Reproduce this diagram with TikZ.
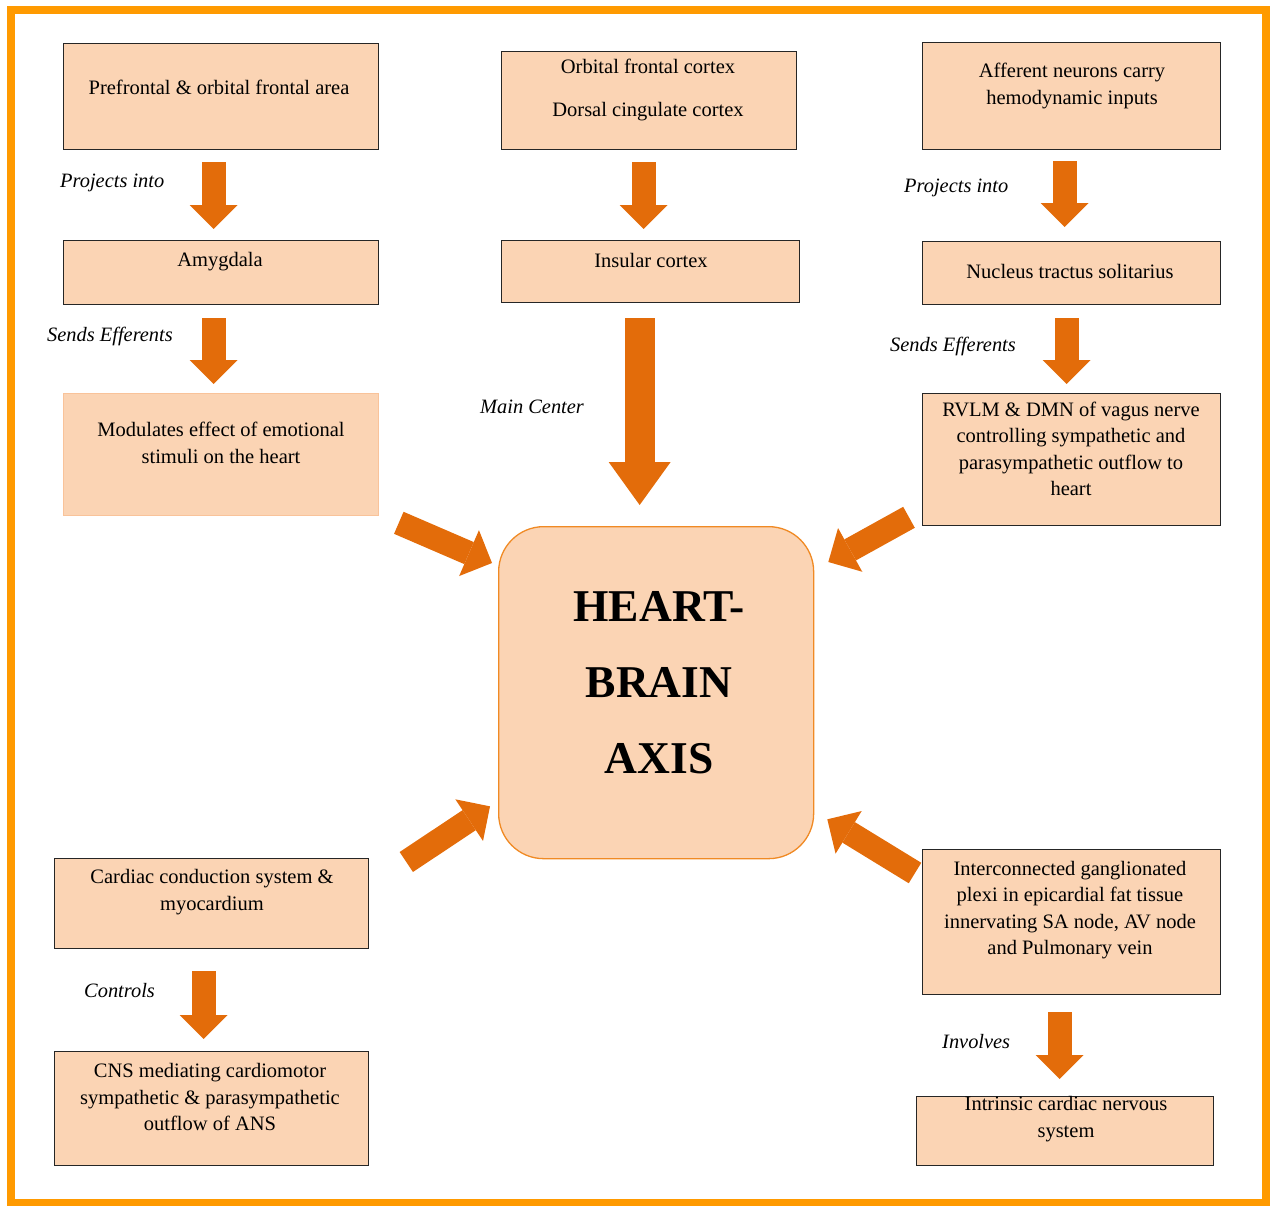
\documentclass[tikz,border=0pt]{standalone}
\usepackage{fontspec}
\setmainfont{Liberation Serif}
\usepackage{tikz}
\usetikzlibrary{arrows.meta}
\definecolor{peach}{HTML}{FBD4B4}
\definecolor{rust}{HTML}{E36C0A}
\definecolor{rim}{HTML}{FF9A00}
\definecolor{hubedge}{HTML}{F08A24}
\definecolor{softedge}{HTML}{F9C39A}
\tikzset{
  box/.style={draw=black!85, fill=peach, line width=1.3pt, anchor=north west, inner sep=0pt},
  softbox/.style={box, draw=softedge, line width=0.8pt},
  hub/.style={draw=hubedge, fill=peach, line width=1.3pt, rounded corners=45pt, anchor=north west, inner sep=0pt},
  txt/.style={font=\fontsize{20.5}{26.5}\selectfont, align=center, inner sep=0pt},
  lab/.style={font=\fontsize{20.4}{24}\selectfont\itshape, anchor=west, inner sep=0pt},
  title/.style={font=\fontsize{45.5}{76}\selectfont\bfseries, align=center, inner sep=0pt},
  flow/.style={draw=rust, line width=24pt, -{Triangle[length=24pt,width=48pt,line width=0pt]}},
  slant/.style={draw=rust, line width=24pt, -{Triangle[length=25pt,width=50pt,line width=0pt]}},
  bigflow/.style={draw=rust, line width=30pt, -{Triangle[length=43pt,width=62pt,line width=0pt]}},
}
\begin{document}
\begin{tikzpicture}[x=1pt,y=-1pt]
  \useasboundingbox (0,0) rectangle (1274,1205);
  \draw[rim, line width=8pt] (11,10) rectangle (1266,1203);
  % boxes
  \node[box, minimum width=315pt, minimum height=106pt] (pfc) at (63,43) {};
  \node[box, minimum width=295pt, minimum height=98pt] (ofc) at (501,51) {};
  \node[box, minimum width=298pt, minimum height=107pt] (aff) at (922,42) {};
  \node[box, minimum width=315pt, minimum height=64pt] (amy) at (63,240) {};
  \node[box, minimum width=298pt, minimum height=62pt] (ins) at (501,240) {};
  \node[box, minimum width=298pt, minimum height=63pt] (nts) at (922,241) {};
  \node[softbox, minimum width=315pt, minimum height=122pt] (mod) at (63,393) {};
  \node[box, minimum width=298pt, minimum height=132pt] (rvlm) at (922,393) {};
  \node[hub, minimum width=315pt, minimum height=332pt] (hba) at (498,526) {};
  \node[box, minimum width=314pt, minimum height=90pt] (card) at (54,858) {};
  \node[box, minimum width=314pt, minimum height=114pt] (cns) at (54,1051) {};
  \node[box, minimum width=298pt, minimum height=145pt] (icp) at (922,849) {};
  \node[box, minimum width=297pt, minimum height=69pt] (icns) at (916,1096) {};
  % texts
  \node[txt] (pfcT) at (219,87) {Prefrontal \& orbital frontal area};
  \node[txt] (ofcT) at (648,90) {Orbital frontal cortex\\[17pt]Dorsal cingulate cortex};
  \node[txt] (affT) at (1072,86) {Afferent neurons carry\\hemodynamic inputs};
  \node[txt] (amyT) at (220,262) {Amygdala};
  \node[txt] (insT) at (651,260) {Insular cortex};
  \node[txt] (ntsT) at (1070,271) {Nucleus tractus solitarius};
  \node[txt] (modT) at (221,443) {Modulates effect of emotional\\stimuli on the heart};
  \node[txt] (rvlmT) at (1071,449) {RVLM \& DMN of vagus nerve\\controlling sympathetic and\\parasympathetic outflow to\\heart};
  \node[title] (hbaT) at (659,683) {HEART-\\BRAIN\\AXIS};
  \node[txt] (cardT) at (212,892) {Cardiac conduction system \&\\myocardium};
  \node[txt] (cnsT) at (210,1097) {CNS mediating cardiomotor\\sympathetic \& parasympathetic\\outflow of ANS};
  \node[txt] (icpT) at (1070,910) {Interconnected ganglionated\\plexi in epicardial fat tissue\\innervating SA node, AV node\\and Pulmonary vein};
  \node[txt] (icnsT) at (1066,1119) {Intrinsic cardiac nervous\\system};
  % arrow labels
  \node[lab] (l1) at (60,183) {Projects into};
  \node[lab] (l2) at (47,336) {Sends Efferents};
  \node[lab] (l3) at (480,407) {Main Center};
  \node[lab] (l4) at (904,188) {Projects into};
  \node[lab] (l5) at (890,346) {Sends Efferents};
  \node[lab] (l6) at (84,991) {Controls};
  \node[lab] (l7) at (942,1042) {Involves};
  % arrows
  \draw[flow, shorten <=12pt, shorten >=11pt] ([xshift=-7.5pt]pfc.south) -- ([xshift=-7.5pt]pfc.south |- amy.north);
  \draw[flow, shorten <=12pt, shorten >=11pt] ([xshift=-5.5pt]ofc.south) -- ([xshift=-5.5pt]ofc.south |- ins.north);
  \draw[flow, shorten <=11pt, shorten >=14pt] ([xshift=-7pt]aff.south) -- ([xshift=-7pt]aff.south |- nts.north);
  \draw[flow, shorten <=13pt, shorten >=9pt] ([xshift=-7.5pt]amy.south) -- ([xshift=-7.5pt]amy.south |- mod.north);
  \draw[bigflow, shorten <=15pt, shorten >=21pt] ([xshift=-11pt]ins.south) -- ([xshift=-11pt]ins.south |- hba.north);
  \draw[flow, shorten <=13pt, shorten >=9pt] ([xshift=-5pt]nts.south) -- ([xshift=-5pt]nts.south |- rvlm.north);
  \draw[flow, shorten <=22pt, shorten >=12pt] ([xshift=-8pt]card.south) -- ([xshift=-8pt]card.south |- cns.north);
  \draw[flow, shorten <=17pt, shorten >=17pt] ([xshift=-12pt]icp.south) -- ([xshift=-12pt]icp.south |- icns.north);
  \draw[slant] ([shift={(20,7)}]mod.south east) -- ([shift={(-6,37)}]hba.north west);
  \draw[slant] ([shift={(-13,-9)}]rvlm.south west) -- ([shift={(14,36)}]hba.north east);
  \draw[slant] ([shift={(37,4)}]card.north east) -- ([shift={(-8,-53)}]hba.south west);
  \draw[slant] ([shift={(-7,24)}]icp.north west) -- ([shift={(13,-40)}]hba.south east);
\end{tikzpicture}
\end{document}
